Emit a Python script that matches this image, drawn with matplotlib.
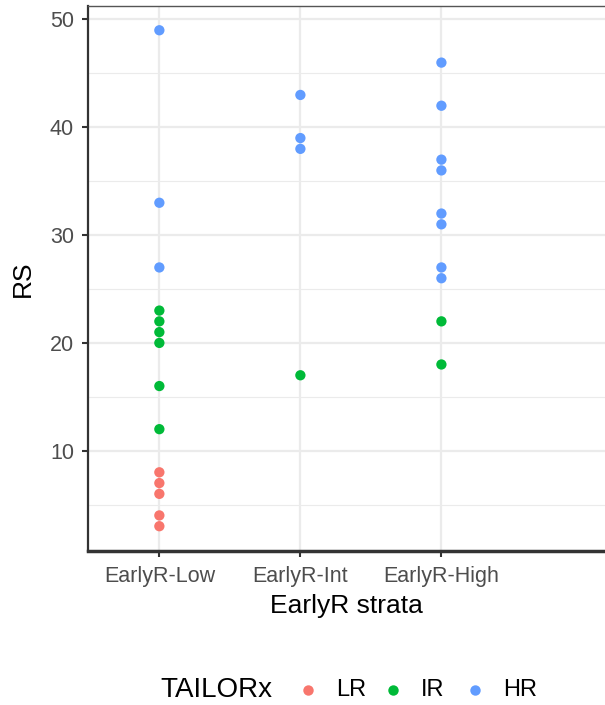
import matplotlib
matplotlib.use("Agg")
import matplotlib.pyplot as plt
from matplotlib.lines import Line2D

plt.rcParams['font.family'] = ['Liberation Sans', 'DejaVu Sans']

# data
strata = ['EarlyR-Low', 'EarlyR-Int', 'EarlyR-High']
groups = ['LR', 'IR', 'HR']
colors = {'LR': '#F8766D', 'IR': '#00BA38', 'HR': '#619CFF'}

low_lr = [8, 7, 6, 4, 3]
low_ir = [23, 22, 21, 20, 16, 12]
low_hr = [49, 33, 27]
int_ir = [17]
int_hr = [43, 39, 38]
high_ir = [22, 18]
high_hr = [46, 42, 37, 36, 32, 31, 27, 26]

points = [
    ('EarlyR-Low', 'LR', low_lr),
    ('EarlyR-Low', 'IR', low_ir),
    ('EarlyR-Low', 'HR', low_hr),
    ('EarlyR-Int', 'IR', int_ir),
    ('EarlyR-Int', 'HR', int_hr),
    ('EarlyR-High', 'IR', high_ir),
    ('EarlyR-High', 'HR', high_hr),
]

W, H = 605, 705
fig = plt.figure(figsize=(W / 100, H / 100), dpi=100)
ax = fig.add_axes([88 / W, 1 - 551 / H, 1 - 88 / W, 545 / H])

for s, g, vals in points:
    x = [strata.index(s) + 1] * len(vals)
    ax.scatter(x, vals, s=55, color=colors[g], edgecolors='none', zorder=3)

ax.set_xlim(0.494, 4.16)
ax.set_ylim(0.7, 51.25)
ax.set_xticks([1, 2, 3])
ax.set_xticklabels(strata)
ax.set_yticks([10, 20, 30, 40, 50])
ax.set_yticks([5, 15, 25, 35, 45], minor=True)
ax.grid(True, which='major', color='#EBEBEB', linewidth=1.6, zorder=0)
ax.grid(True, which='minor', axis='y', color='#EBEBEB', linewidth=0.8, zorder=0)
ax.set_axisbelow(True)

ax.tick_params(axis='both', which='major', length=4, width=1.5, color='#333333',
               labelcolor='#4D4D4D', labelsize=15.5)
ax.tick_params(axis='x', which='major', pad=7)
ax.tick_params(axis='y', which='major', pad=6)
ax.tick_params(axis='y', which='minor', length=0)

ax.spines['right'].set_visible(False)
ax.spines['top'].set_color('#555555')
ax.spines['top'].set_linewidth(1.0)
ax.spines['left'].set_color('#333333')
ax.spines['left'].set_linewidth(1.6)
ax.spines['bottom'].set_color('#333333')
ax.spines['bottom'].set_linewidth(2.5)

ax.set_xlabel('EarlyR strata', fontsize=19, labelpad=5)
ax.set_ylabel('RS', fontsize=19, labelpad=11)

# legend, drawn by hand in figure pixels
ly = 1 - 690 / H
fig.text(160 / W, ly, 'TAILORx', fontsize=20, va='center', ha='left')
marker_x = [308, 393, 475]
for g, mx in zip(groups, marker_x):
    fig.add_artist(Line2D([mx / W], [ly], transform=fig.transFigure, marker='o',
                          linestyle='', markersize=7.5, markerfacecolor=colors[g],
                          markeredgecolor='none'))
    fig.text((mx + 28) / W, ly, g, fontsize=17, va='center', ha='left')

fig.savefig('out.png', dpi=100)
